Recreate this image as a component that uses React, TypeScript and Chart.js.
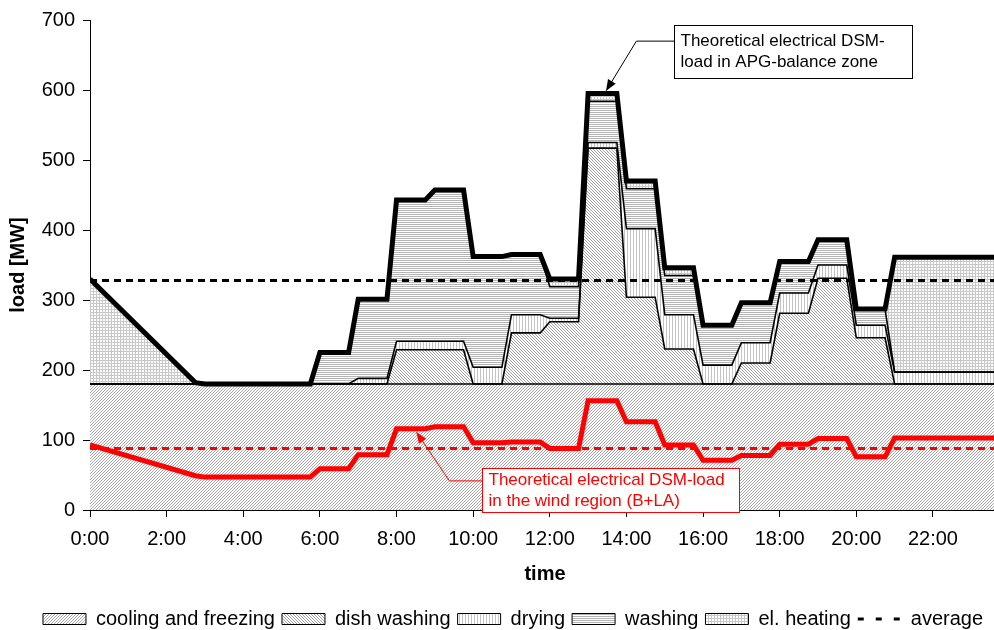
import React, { useEffect, useRef } from 'react';
import { Chart, registerables } from 'chart.js';

Chart.register(...registerables);

// ---------- data (time in hours) ----------
const TIMES = [0, 2.75, 3, 5.75, 6, 6.75, 7, 7.75, 8, 8.75, 9, 9.75, 10, 10.75, 11, 11.75, 12, 12.75, 13, 13.75, 14, 14.75, 15, 15.75, 16, 16.75, 17, 17.75, 18, 18.75, 19, 19.75, 20, 20.75, 21, 23.75];
const COOLING = [180, 180, 180, 180, 180, 180, 180, 180, 180, 180, 180, 180, 180, 180, 180, 180, 180, 180, 180, 180, 180, 180, 180, 180, 180, 180, 180, 180, 180, 180, 180, 180, 180, 180, 180, 180];
const DISH = [0, 0, 0, 0, 0, 0, 0, 0, 49, 49, 49, 49, 0, 0, 73, 73, 89, 89, 337, 337, 124, 124, 50, 50, 0, 0, 30, 30, 101, 101, 151, 151, 66, 66, 0, 0];
const DRYING = [0, 0, 0, 0, 0, 0, 8, 8, 12, 12, 12, 12, 24, 24, 26, 26, 5, 5, 8, 8, 98, 98, 49, 49, 27, 27, 29, 29, 29, 29, 19, 19, 18, 18, 17, 17];
const WASHING = [0, 0, 0, 0, 45, 45, 113, 113, 202, 202, 216, 216, 158, 158, 86, 86, 45, 45, 59, 59, 57, 57, 56, 56, 57, 57, 57, 57, 45, 45, 36, 36, 23, 23, 0, 0];
const HEATING = [150, 2, 0, 0, 0, 0, 0, 0, 0, 0, 0, 0, 0, 0, 0, 0, 11, 11, 11, 11, 11, 11, 11, 11, 0, 0, 0, 0, 0, 0, 0, 0, 0, 0, 164, 164];
const WIND = [93, 49, 47, 47, 59, 59, 79, 79, 116, 116, 119, 119, 96, 96, 97, 97, 88, 88, 156, 156, 126, 126, 93, 93, 71, 71, 78, 78, 94, 94, 102, 102, 76, 76, 103, 103];
const AVG_TIMES = [0, 23.75];
const AVG_TOTAL = [328, 328];
const AVG_WIND = [88, 88];

const SERIES_LABELS = ['cooling and freezing', 'dish washing', 'drying', 'washing', 'el. heating'];
const AVERAGE_LABEL = 'average';
const X_TICK_LABELS = ['0:00', '2:00', '4:00', '6:00', '8:00', '10:00', '12:00', '14:00', '16:00', '18:00', '20:00', '22:00'];
const X_TITLE = 'time';
const Y_TITLE = 'load [MW]';

const NOTE_APG = {
  lines: ['Theoretical electrical DSM-', 'load in APG-balance zone'],
  left: 15.23, right: 21.46, top: 693, bottom: 616.6,
  elbow: { x: 14.26, y: 669.8 }, tip: { x: 13.47, y: 598.8 },
};
const NOTE_WIND = {
  lines: ['Theoretical electrical DSM-load', 'in the wind region (B+LA)'],
  left: 10.24, right: 16.95, top: 60, bottom: -2.4,
  elbow: { x: 9.38, y: 41.6 }, tip: { x: 8.52, y: 111.2 },
};

const FONT = '"Liberation Sans", Arial, Helvetica, sans-serif';
const LEGEND_SHIFT = 13;

function makePattern(kind: string, color: string, size: number): CanvasPattern {
  const c = document.createElement('canvas');
  c.width = size;
  c.height = size;
  const g = c.getContext('2d')!;
  g.fillStyle = '#ffffff';
  g.fillRect(0, 0, size, size);
  g.fillStyle = color;
  if (kind === 'diagUp') {
    for (let i = 0; i < size; i++) g.fillRect(size - 1 - i, i, 1, 1);
  } else if (kind === 'diagDown') {
    for (let i = 0; i < size; i++) g.fillRect(i, i, 1, 1);
  } else if (kind === 'vert') {
    g.fillRect(0, 0, 1, size);
  } else if (kind === 'horiz') {
    g.fillRect(0, 0, size, 1);
  } else if (kind === 'grid') {
    g.fillRect(0, 0, 1, size);
    g.fillRect(0, 0, size, 1);
  }
  return g.createPattern(c, 'repeat')!;
}

function drawArrowHead(ctx: CanvasRenderingContext2D, fx: number, fy: number, tx: number, ty: number, len: number, half: number) {
  const a = Math.atan2(ty - fy, tx - fx);
  ctx.beginPath();
  ctx.moveTo(tx, ty);
  ctx.lineTo(tx - len * Math.cos(a) + half * Math.sin(a), ty - len * Math.sin(a) - half * Math.cos(a));
  ctx.lineTo(tx - len * Math.cos(a) - half * Math.sin(a), ty - len * Math.sin(a) + half * Math.cos(a));
  ctx.closePath();
  ctx.fill();
}

const legendShiftPlugin = {
  id: 'legendShift',
  afterLayout(chart: any) {
    const lg = chart.legend;
    if (lg) {
      lg.left += LEGEND_SHIFT;
      lg.right += LEGEND_SHIFT;
    }
  },
};

const notesPlugin = {
  id: 'notes',
  afterDraw(chart: any) {
    const { ctx } = chart;
    const xs = chart.scales.x;
    const ys = chart.scales.y;
    const draw = (note: any, color: string, firstBase: number, gap: number) => {
      const l = Math.round(xs.getPixelForValue(note.left)) + 0.5;
      const r = Math.round(xs.getPixelForValue(note.right)) + 0.5;
      const t = Math.round(ys.getPixelForValue(note.top)) + 0.5;
      const b = Math.round(ys.getPixelForValue(note.bottom)) + 0.5;
      const ex = xs.getPixelForValue(note.elbow.x);
      const ey = ys.getPixelForValue(note.elbow.y);
      const tx = xs.getPixelForValue(note.tip.x);
      const ty = ys.getPixelForValue(note.tip.y);
      ctx.save();
      ctx.strokeStyle = color;
      ctx.fillStyle = color;
      ctx.lineWidth = 1;
      ctx.beginPath();
      ctx.moveTo(l, ey);
      ctx.lineTo(ex, ey);
      ctx.lineTo(tx, ty);
      ctx.stroke();
      drawArrowHead(ctx, ex, ey, tx, ty, 11, 4.5);
      ctx.fillStyle = '#ffffff';
      ctx.fillRect(l, t, r - l, b - t);
      ctx.strokeRect(l, t, r - l, b - t);
      ctx.fillStyle = color;
      ctx.font = `17px ${FONT}`;
      ctx.textAlign = 'left';
      ctx.textBaseline = 'alphabetic';
      note.lines.forEach((s: string, i: number) => {
        ctx.fillText(s, l + 6, t + firstBase + gap * i);
      });
      ctx.restore();
    };
    draw(NOTE_APG, '#000000', 20, 21);
    draw(NOTE_WIND, '#ff0000', 16.5, 20.5);
  },
};

export default function App() {
  const ref = useRef<HTMLCanvasElement | null>(null);

  useEffect(() => {
    const canvas = ref.current!;
    const ctx = canvas.getContext('2d')!;
    Chart.defaults.font.family = FONT;
    Chart.defaults.color = '#000';

    const patterns = [
      makePattern('diagUp', '#a6a6a6', 3),
      makePattern('diagDown', '#a0a0a0', 3),
      makePattern('vert', '#c4c4c4', 3),
      makePattern('horiz', '#b4b4b4', 2),
      makePattern('grid', '#c8c8c8', 3),
    ];
    const stackValues = [COOLING, DISH, DRYING, WASHING, HEATING];

    const stacked = stackValues.map((vals, k) => ({
      label: SERIES_LABELS[k],
      data: TIMES.map((t, i) => ({ x: t, y: vals[i] })),
      backgroundColor: patterns[k],
      borderColor: '#000',
      borderWidth: k === 4 ? 5 : 1.6,
      fill: k === 0 ? 'origin' : '-1',
      pointRadius: 0,
      tension: 0,
    }));

    const chart = new Chart(ctx, {
      type: 'line',
      data: {
        datasets: [
          ...stacked,
          {
            label: 'wind',
            stack: 'wind',
            data: TIMES.map((t, i) => ({ x: t, y: WIND[i] })),
            borderColor: '#ff0000',
            borderWidth: 5,
            fill: false,
            pointRadius: 0,
            tension: 0,
          },
          {
            label: AVERAGE_LABEL,
            stack: 'avg',
            data: AVG_TIMES.map((t, i) => ({ x: t, y: AVG_TOTAL[i] })),
            borderColor: '#000',
            borderWidth: 3,
            borderDash: [7, 5],
            fill: false,
            pointRadius: 0,
          },
          {
            label: 'avg wind',
            stack: 'avgwind',
            data: AVG_TIMES.map((t, i) => ({ x: t, y: AVG_WIND[i] })),
            borderColor: '#ff0000',
            borderWidth: 3,
            borderDash: [7, 5],
            fill: false,
            pointRadius: 0,
          },
        ] as any,
      },
      options: {
        animation: false,
        responsive: true,
        maintainAspectRatio: false,
        layout: { padding: { top: 17, right: 27, left: 0, bottom: 0 } },
        plugins: {
          filler: { drawTime: 'beforeDatasetsDraw', propagate: false } as any,
          tooltip: { enabled: false },
          legend: {
            position: 'bottom',
            labels: {
              usePointStyle: true,
              pointStyleWidth: 43,
              boxHeight: 11,
              padding: 7,
              font: { size: 20 },
              color: '#000',
              generateLabels: () => [
                ...SERIES_LABELS.map((text, k) => ({
                  text,
                  fillStyle: patterns[k],
                  strokeStyle: '#000',
                  lineWidth: 1,
                  pointStyle: 'rect',
                  hidden: false,
                  datasetIndex: k,
                  lineDash: [],
                })),
                {
                  text: AVERAGE_LABEL,
                  fillStyle: 'rgba(0,0,0,0)',
                  strokeStyle: '#000',
                  lineWidth: 3,
                  pointStyle: 'line',
                  hidden: false,
                  datasetIndex: 6,
                  lineDash: [6, 12],
                },
              ] as any,
            },
          },
        },
        scales: {
          x: {
            type: 'linear',
            min: 0,
            max: 23.75,
            afterFit: (s: any) => { s.height = 92; },
            ticks: {
              stepSize: 2,
              includeBounds: false,
              autoSkip: false,
              maxRotation: 0,
              padding: 10,
              font: { size: 20 },
              color: '#000',
              callback: (v: any) => X_TICK_LABELS[Math.round(Number(v) / 2)] ?? '',
            },
            grid: { drawOnChartArea: false, color: '#000', tickLength: 7 },
            border: { color: '#000', width: 1 },
            title: {
              display: true,
              text: X_TITLE,
              font: { size: 20, weight: 'bold' },
              color: '#000',
              padding: { top: 0, bottom: 16 },
            },
          } as any,
          y: {
            stacked: true,
            min: 0,
            max: 700,
            afterFit: (s: any) => { s.width = 90; },
            ticks: { stepSize: 100, padding: 8, font: { size: 20 }, color: '#000' },
            grid: { drawOnChartArea: false, color: '#000', tickLength: 7 },
            border: { color: '#000', width: 1 },
            title: {
              display: true,
              text: Y_TITLE,
              font: { size: 20, weight: 'bold' },
              color: '#000',
              padding: { top: 6, bottom: 0 },
            },
          } as any,
        },
      },
      plugins: [legendShiftPlugin, notesPlugin],
    });
    return () => chart.destroy();
  }, []);

  return (
    <div style={{ position: 'fixed', left: 0, top: 0, width: 1027, height: 639, background: '#fff' }}>
      <canvas ref={ref} />
    </div>
  );
}
